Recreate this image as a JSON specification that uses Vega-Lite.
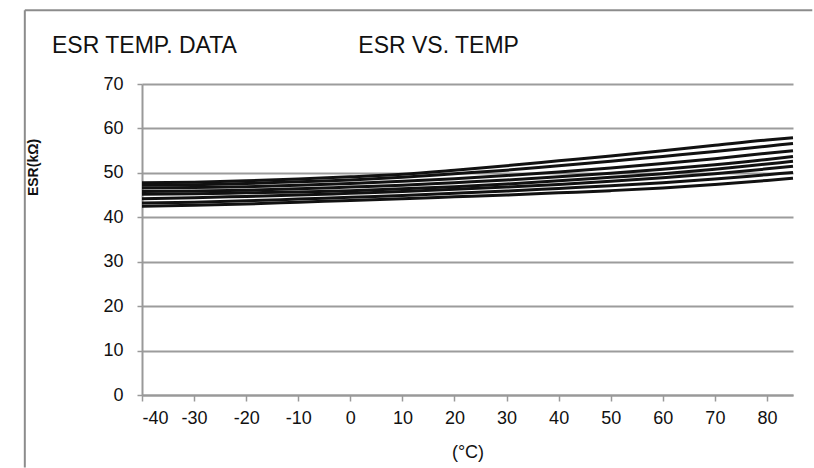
{
  "$schema": "https://vega.github.io/schema/vega-lite/v6.json",
  "width": 651,
  "height": 311,
  "autosize": {"type": "none"},
  "padding": {"left": 142, "top": 84, "right": 21, "bottom": 73},
  "background": "white",
  "title": {
    "text": "ESR TEMP. DATA\u00a0\u00a0\u00a0\u00a0\u00a0\u00a0\u00a0\u00a0\u00a0\u00a0\u00a0\u00a0\u00a0\u00a0\u00a0\u00a0\u00a0\u00a0\u00a0ESR VS. TEMP",
    "anchor": "start",
    "frame": "group",
    "dx": -90,
    "offset": -67,
    "baseline": "alphabetic",
    "font": "Liberation Sans",
    "fontSize": 23,
    "fontWeight": "normal",
    "color": "#111111"
  },
  "config": {
    "view": {"stroke": null},
    "axis": {
      "labelFont": "Liberation Sans Narrow, Liberation Sans",
      "labelFontSize": 18,
      "labelColor": "#111111",
      "titleFont": "Liberation Sans",
      "titleColor": "#111111",
      "domainColor": "#999999",
      "domainWidth": 2,
      "tickColor": "#999999",
      "tickWidth": 1.5,
      "gridColor": "#9c9c9c",
      "gridWidth": 2
    }
  },
  "datasets": {
    "esr": [
      {"s": "A", "t": -40, "v": 47.8}, {"s": "A", "t": -30, "v": 47.9}, {"s": "A", "t": -20, "v": 48.2}, {"s": "A", "t": -10, "v": 48.6}, {"s": "A", "t": 0, "v": 49.1}, {"s": "A", "t": 10, "v": 49.7}, {"s": "A", "t": 20, "v": 50.6}, {"s": "A", "t": 30, "v": 51.6}, {"s": "A", "t": 40, "v": 52.7}, {"s": "A", "t": 50, "v": 53.8}, {"s": "A", "t": 60, "v": 55.0}, {"s": "A", "t": 70, "v": 56.2}, {"s": "A", "t": 80, "v": 57.4}, {"s": "A", "t": 85, "v": 57.9},
      {"s": "B", "t": -40, "v": 47.2}, {"s": "B", "t": -30, "v": 47.3}, {"s": "B", "t": -20, "v": 47.6}, {"s": "B", "t": -10, "v": 48.0}, {"s": "B", "t": 0, "v": 48.4}, {"s": "B", "t": 10, "v": 49.0}, {"s": "B", "t": 20, "v": 49.8}, {"s": "B", "t": 30, "v": 50.6}, {"s": "B", "t": 40, "v": 51.6}, {"s": "B", "t": 50, "v": 52.6}, {"s": "B", "t": 60, "v": 53.7}, {"s": "B", "t": 70, "v": 54.8}, {"s": "B", "t": 80, "v": 56.0}, {"s": "B", "t": 85, "v": 56.6},
      {"s": "C", "t": -40, "v": 46.6}, {"s": "C", "t": -30, "v": 46.7}, {"s": "C", "t": -20, "v": 46.9}, {"s": "C", "t": -10, "v": 47.2}, {"s": "C", "t": 0, "v": 47.6}, {"s": "C", "t": 10, "v": 48.1}, {"s": "C", "t": 20, "v": 48.7}, {"s": "C", "t": 30, "v": 49.4}, {"s": "C", "t": 40, "v": 50.2}, {"s": "C", "t": 50, "v": 51.1}, {"s": "C", "t": 60, "v": 52.1}, {"s": "C", "t": 70, "v": 53.2}, {"s": "C", "t": 80, "v": 54.4}, {"s": "C", "t": 85, "v": 55.0},
      {"s": "D", "t": -40, "v": 45.8}, {"s": "D", "t": -30, "v": 45.9}, {"s": "D", "t": -20, "v": 46.1}, {"s": "D", "t": -10, "v": 46.4}, {"s": "D", "t": 0, "v": 46.8}, {"s": "D", "t": 10, "v": 47.2}, {"s": "D", "t": 20, "v": 47.8}, {"s": "D", "t": 30, "v": 48.4}, {"s": "D", "t": 40, "v": 49.1}, {"s": "D", "t": 50, "v": 49.9}, {"s": "D", "t": 60, "v": 50.8}, {"s": "D", "t": 70, "v": 51.8}, {"s": "D", "t": 80, "v": 53.0}, {"s": "D", "t": 85, "v": 53.7},
      {"s": "E", "t": -40, "v": 45.2}, {"s": "E", "t": -30, "v": 45.3}, {"s": "E", "t": -20, "v": 45.5}, {"s": "E", "t": -10, "v": 45.7}, {"s": "E", "t": 0, "v": 46.0}, {"s": "E", "t": 10, "v": 46.4}, {"s": "E", "t": 20, "v": 46.9}, {"s": "E", "t": 30, "v": 47.5}, {"s": "E", "t": 40, "v": 48.2}, {"s": "E", "t": 50, "v": 49.0}, {"s": "E", "t": 60, "v": 49.8}, {"s": "E", "t": 70, "v": 50.8}, {"s": "E", "t": 80, "v": 52.0}, {"s": "E", "t": 85, "v": 52.6},
      {"s": "F", "t": -40, "v": 44.2}, {"s": "F", "t": -30, "v": 44.4}, {"s": "F", "t": -20, "v": 44.7}, {"s": "F", "t": -10, "v": 45.0}, {"s": "F", "t": 0, "v": 45.4}, {"s": "F", "t": 10, "v": 45.8}, {"s": "F", "t": 20, "v": 46.3}, {"s": "F", "t": 30, "v": 46.8}, {"s": "F", "t": 40, "v": 47.4}, {"s": "F", "t": 50, "v": 48.1}, {"s": "F", "t": 60, "v": 48.9}, {"s": "F", "t": 70, "v": 49.8}, {"s": "F", "t": 80, "v": 50.9}, {"s": "F", "t": 85, "v": 51.5},
      {"s": "G", "t": -40, "v": 43.2}, {"s": "G", "t": -30, "v": 43.4}, {"s": "G", "t": -20, "v": 43.7}, {"s": "G", "t": -10, "v": 44.1}, {"s": "G", "t": 0, "v": 44.5}, {"s": "G", "t": 10, "v": 44.9}, {"s": "G", "t": 20, "v": 45.4}, {"s": "G", "t": 30, "v": 45.9}, {"s": "G", "t": 40, "v": 46.5}, {"s": "G", "t": 50, "v": 47.1}, {"s": "G", "t": 60, "v": 47.8}, {"s": "G", "t": 70, "v": 48.6}, {"s": "G", "t": 80, "v": 49.6}, {"s": "G", "t": 85, "v": 50.1},
      {"s": "H", "t": -40, "v": 42.5}, {"s": "H", "t": -30, "v": 42.7}, {"s": "H", "t": -20, "v": 43.0}, {"s": "H", "t": -10, "v": 43.4}, {"s": "H", "t": 0, "v": 43.8}, {"s": "H", "t": 10, "v": 44.2}, {"s": "H", "t": 20, "v": 44.6}, {"s": "H", "t": 30, "v": 45.0}, {"s": "H", "t": 40, "v": 45.5}, {"s": "H", "t": 50, "v": 46.0}, {"s": "H", "t": 60, "v": 46.6}, {"s": "H", "t": 70, "v": 47.4}, {"s": "H", "t": 80, "v": 48.3}, {"s": "H", "t": 85, "v": 48.8}
    ],
    "frame": [{"left": -62.5, "right": 88.7, "top": 86.6, "bottom": -16.3}]
  },
  "layer": [
    {
      "data": {"name": "frame"},
      "mark": {"type": "rule", "stroke": "#8c8c8c", "strokeWidth": 2, "clip": false},
      "encoding": {
        "x": {"field": "left", "type": "quantitative"},
        "x2": {"field": "right"},
        "y": {"field": "top", "type": "quantitative"}
      }
    },
    {
      "data": {"name": "frame"},
      "mark": {"type": "rule", "stroke": "#8c8c8c", "strokeWidth": 2, "clip": false},
      "encoding": {
        "x": {"field": "left", "type": "quantitative"},
        "y": {"field": "top", "type": "quantitative"},
        "y2": {"field": "bottom"}
      }
    },
    {
      "data": {"name": "esr"},
      "mark": {"type": "line", "color": "#111111", "strokeWidth": 3, "interpolate": "monotone"},
      "encoding": {
        "x": {
          "field": "t",
          "type": "quantitative",
          "scale": {"domain": [-40, 85], "nice": false, "zero": false},
          "axis": {
            "values": [-40, -30, -20, -10, 0, 10, 20, 30, 40, 50, 60, 70, 80],
            "labelExpr": "'' + datum.value",
            "grid": false,
            "title": "(°C)",
            "titleFontSize": 18,
            "titleFontWeight": "normal",
            "titlePadding": 16,
            "labelPadding": 8,
            "tickSize": 6
          }
        },
        "y": {
          "field": "v",
          "type": "quantitative",
          "scale": {"domain": [0, 70], "nice": false},
          "axis": {
            "values": [0, 10, 20, 30, 40, 50, 60, 70],
            "grid": true,
            "title": "ESR(kΩ)",
            "titleFontSize": 14,
            "titleFontWeight": "bold",
            "titleX": -102,
            "titleY": 83,
            "labelPadding": 14,
            "tickSize": 5
          }
        },
        "detail": {"field": "s", "type": "nominal"}
      }
    }
  ]
}
